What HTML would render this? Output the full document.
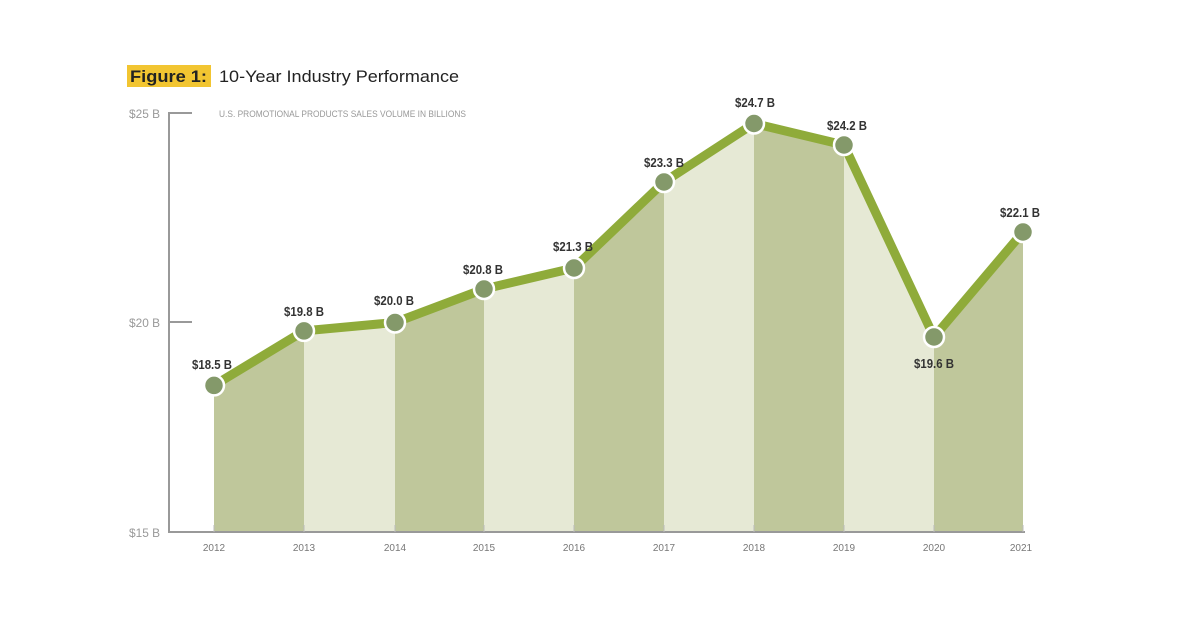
<!DOCTYPE html>
<html><head><meta charset="utf-8"><style>
body{margin:0;background:#fff;}
svg text{font-family:"Liberation Sans",sans-serif;}
</style></head><body>
<svg width="1200" height="618" viewBox="0 0 1200 618" xmlns="http://www.w3.org/2000/svg">
<rect width="1200" height="618" fill="#fff"/>
<rect x="127" y="65" width="84" height="22" fill="#f2c531"/>
<text x="130" y="82" font-size="17" font-weight="bold" fill="#222" textLength="77" lengthAdjust="spacingAndGlyphs">Figure 1:</text>
<text x="219" y="82" font-size="17" fill="#222" textLength="240" lengthAdjust="spacingAndGlyphs">10-Year Industry Performance</text>
<text x="219" y="117" font-size="9" fill="#999" textLength="247" lengthAdjust="spacingAndGlyphs">U.S. PROMOTIONAL PRODUCTS SALES VOLUME IN BILLIONS</text>
<g fill="#999" font-size="12">
<text x="129" y="118" textLength="31" lengthAdjust="spacingAndGlyphs">$25 B</text>
<text x="129" y="327" textLength="31" lengthAdjust="spacingAndGlyphs">$20 B</text>
<text x="129" y="537" textLength="31" lengthAdjust="spacingAndGlyphs">$15 B</text>
</g>
<g id="fills">
<polygon points="214,385.4 304,330.9 304,532 214,532" fill="#bfc79b"/>
<polygon points="304,330.9 395,322.5 395,532 304,532" fill="#e6e9d5"/>
<polygon points="395,322.5 484,289 484,532 395,532" fill="#bfc79b"/>
<polygon points="484,289 574,268 574,532 484,532" fill="#e6e9d5"/>
<polygon points="574,268 664,182 664,532 574,532" fill="#bfc79b"/>
<polygon points="664,182 754,123.5 754,532 664,532" fill="#e6e9d5"/>
<polygon points="754,123.5 844,145 844,532 754,532" fill="#bfc79b"/>
<polygon points="844,145 934,337 934,532 844,532" fill="#e6e9d5"/>
<polygon points="934,337 1023,232 1023,532 934,532" fill="#bfc79b"/>
</g>
<g stroke="#999" stroke-width="2" fill="none">
<polyline points="192,113 169,113 169,532 1025,532"/>
<line x1="169" y1="322" x2="192" y2="322"/>
</g>
<g stroke="#bbb" stroke-width="1">
<line x1="214" y1="525" x2="214" y2="532"/><line x1="304" y1="525" x2="304" y2="532"/><line x1="395" y1="525" x2="395" y2="532"/><line x1="484" y1="525" x2="484" y2="532"/><line x1="574" y1="525" x2="574" y2="532"/><line x1="664" y1="525" x2="664" y2="532"/><line x1="754" y1="525" x2="754" y2="532"/><line x1="844" y1="525" x2="844" y2="532"/><line x1="934" y1="525" x2="934" y2="532"/><line x1="1023" y1="525" x2="1023" y2="532"/>
</g>
<polyline points="214,385.4 304,330.9 395,322.5 484,289 574,268 664,182 754,123.5 844,145 934,337 1023,232" fill="none" stroke="#8fab3a" stroke-width="9" stroke-linejoin="round"/>
<g fill="#84996a" stroke="#fff" stroke-width="2.5">
<circle cx="214" cy="385.4" r="10"/><circle cx="304" cy="330.9" r="10"/><circle cx="395" cy="322.5" r="10"/><circle cx="484" cy="289" r="10"/><circle cx="574" cy="268" r="10"/><circle cx="664" cy="182" r="10"/><circle cx="754" cy="123.5" r="10"/><circle cx="844" cy="145" r="10"/><circle cx="934" cy="337" r="10"/><circle cx="1023" cy="232" r="10"/>
</g>
<g fill="#333" font-size="13" font-weight="bold" text-anchor="middle">
<text x="212" y="369" textLength="40" lengthAdjust="spacingAndGlyphs">$18.5 B</text>
<text x="304" y="316" textLength="40" lengthAdjust="spacingAndGlyphs">$19.8 B</text>
<text x="394" y="305" textLength="40" lengthAdjust="spacingAndGlyphs">$20.0 B</text>
<text x="483" y="274" textLength="40" lengthAdjust="spacingAndGlyphs">$20.8 B</text>
<text x="573" y="251" textLength="40" lengthAdjust="spacingAndGlyphs">$21.3 B</text>
<text x="664" y="167" textLength="40" lengthAdjust="spacingAndGlyphs">$23.3 B</text>
<text x="755" y="107" textLength="40" lengthAdjust="spacingAndGlyphs">$24.7 B</text>
<text x="847" y="130" textLength="40" lengthAdjust="spacingAndGlyphs">$24.2 B</text>
<text x="934" y="368" textLength="40" lengthAdjust="spacingAndGlyphs">$19.6 B</text>
<text x="1020" y="217" textLength="40" lengthAdjust="spacingAndGlyphs">$22.1 B</text>
</g>
<g fill="#777" font-size="10" text-anchor="middle">
<text x="214" y="551">2012</text><text x="304" y="551">2013</text><text x="395" y="551">2014</text><text x="484" y="551">2015</text><text x="574" y="551">2016</text><text x="664" y="551">2017</text><text x="754" y="551">2018</text><text x="844" y="551">2019</text><text x="934" y="551">2020</text><text x="1021" y="551">2021</text>
</g>
</svg>
</body></html>
